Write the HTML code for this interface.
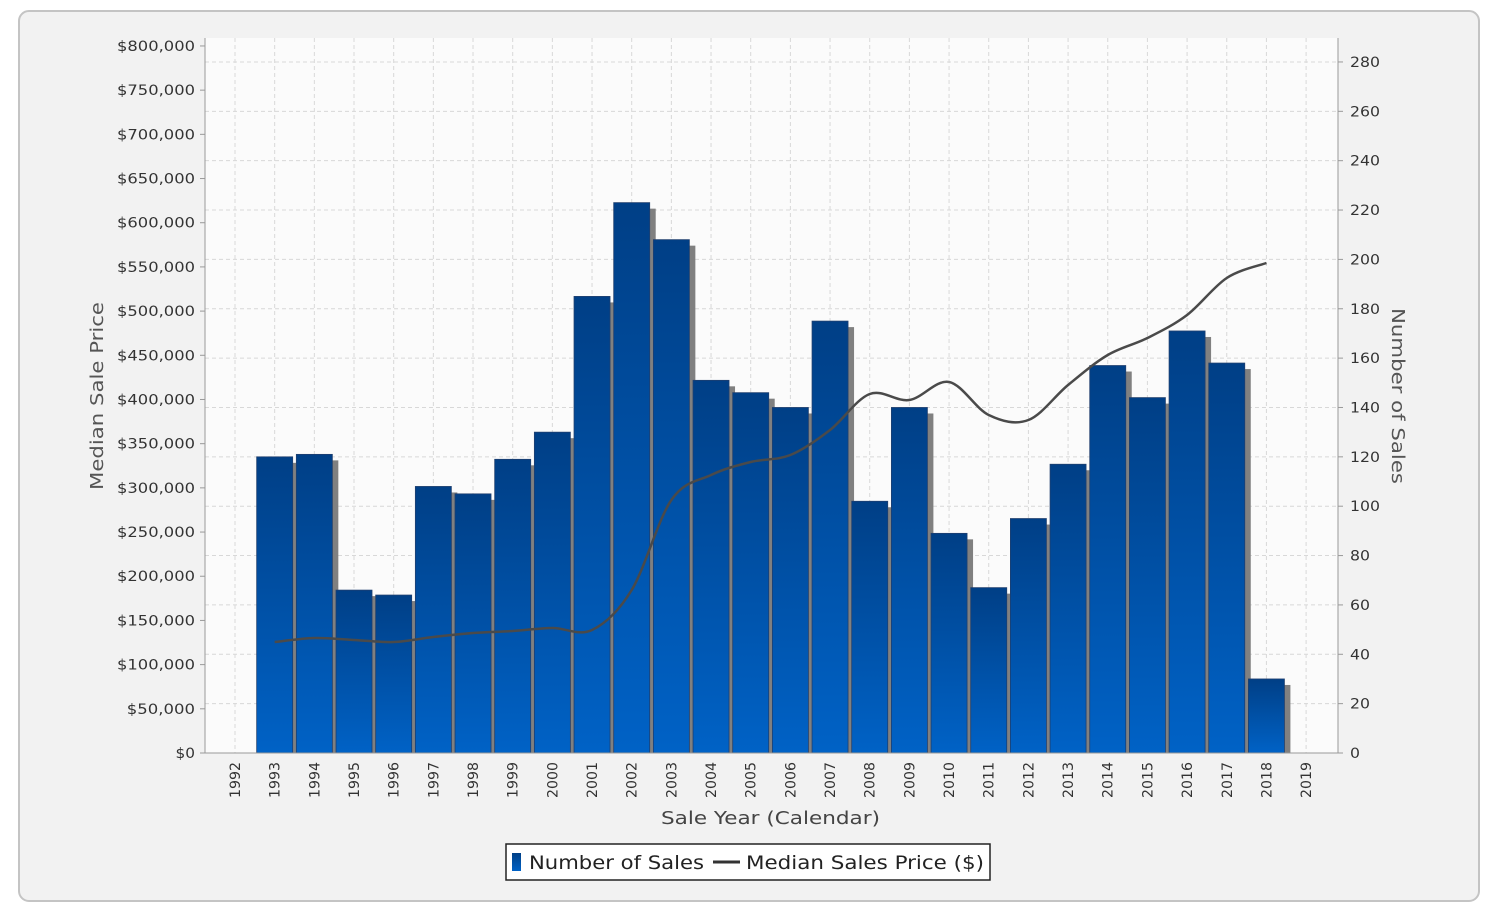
<!DOCTYPE html>
<html><head><meta charset="utf-8"><style>
html,body{margin:0;padding:0;background:#fff;width:1492px;height:913px;overflow:hidden}
</style></head><body>
<svg id="s" width="1492" height="913" xmlns="http://www.w3.org/2000/svg" font-family="'DejaVu Sans','Liberation Sans',sans-serif">
<defs>
<linearGradient id="g" x1="0" y1="0" x2="0" y2="1">
<stop offset="0" stop-color="#003f86"/><stop offset="1" stop-color="#0062c6"/>
</linearGradient>
</defs>
<rect x="19" y="11" width="1460" height="890" rx="10" fill="#f2f2f2" stroke="#c4c4c4" stroke-width="2"/>
<rect x="65" y="30" width="1365" height="852" fill="#f2f2f2"/>
<rect x="205" y="38" width="1133" height="715" fill="#fbfbfb"/>
<g id="grid" stroke="#d8d8d8" stroke-dasharray="4,3" stroke-width="1"></g>
<g id="bars"></g>
<path id="ln" fill="none" stroke="#4a4a4a" stroke-width="2.5"/>
<line x1="205" y1="38" x2="205" y2="753" stroke="#999"/>
<line x1="1338" y1="38" x2="1338" y2="753" stroke="#999"/>
<line x1="205" y1="753" x2="1338" y2="753" stroke="#999"/>
<g id="lab" font-size="14" fill="#333"></g>
<text x="103" y="396" font-size="18" fill="#555" text-anchor="middle" textLength="188" lengthAdjust="spacingAndGlyphs" transform="rotate(-90 103 396)">Median Sale Price</text>
<text x="1392" y="396" font-size="18" fill="#555" text-anchor="middle" textLength="176" lengthAdjust="spacingAndGlyphs" transform="rotate(90 1392 396)">Number of Sales</text>
<text x="661" y="824" font-size="18" fill="#444" textLength="219" lengthAdjust="spacingAndGlyphs">Sale Year (Calendar)</text>
<rect x="506" y="844" width="484" height="36" fill="#fff" stroke="#222" stroke-width="1.5"/>
<rect x="512" y="853" width="9" height="18" fill="url(#g)"/>
<text x="529" y="869" font-size="19" fill="#222" textLength="175" lengthAdjust="spacingAndGlyphs">Number of Sales</text>
<line x1="713" y1="862" x2="740" y2="862" stroke="#333" stroke-width="3"/>
<text x="746" y="869" font-size="19" fill="#222" textLength="238" lengthAdjust="spacingAndGlyphs">Median Sales Price ($)</text>
</svg>
<script>
var NS="http://www.w3.org/2000/svg";
function el(p,t,a,txt){var e=document.createElementNS(NS,t);for(var k in a)e.setAttribute(k,a[k]);if(txt!=null)e.textContent=txt;document.getElementById(p).appendChild(e);return e;}
var X=function(y){return 235+(y-1992)*39.67;};
var R=function(v){return 753-v*2.468;};
var L=function(v){return 753-v/1000*0.8838;};
for(var i=1;i<=14;i++){var y=R(i*20);el("grid","line",{x1:205,x2:1338,y1:y,y2:y});}
for(var yr=1992;yr<=2019;yr++){el("grid","line",{x1:X(yr),x2:X(yr),y1:38,y2:753});}
var vals=[120,121,66,64,108,105,119,130,185,223,208,151,146,140,175,102,140,89,67,95,117,157,144,171,158,30];
vals.forEach(function(v,i){var cx=X(1993+i),t=R(v);
el("bars","rect",{x:cx+0,y:t+6,width:18+6,height:753-t-6,fill:"#808080"});
el("bars","rect",{x:cx-18,y:t,width:36,height:753-t,fill:"url(#g)",stroke:"#1f3f6e","stroke-width":0.8});});
var ly=[642,638,640,642,637,633,631,628,630,590,500,475,462,455,430,394,400,382,415,420,385,355,338,315,278,263];
var pts=ly.map(function(y,i){return [X(1993+i),y];});
var d="M"+pts[0][0]+","+pts[0][1];
for(var i=0;i<pts.length-1;i++){var p0=pts[Math.max(0,i-1)],p1=pts[i],p2=pts[i+1],p3=pts[Math.min(pts.length-1,i+2)];
d+=" C"+(p1[0]+(p2[0]-p0[0])/6)+","+(p1[1]+(p2[1]-p0[1])/6)+" "+(p2[0]-(p3[0]-p1[0])/6)+","+(p2[1]-(p3[1]-p1[1])/6)+" "+p2[0]+","+p2[1];}
document.getElementById("ln").setAttribute("d",d);
for(var i=0;i<=16;i++){var v=i*50000,y=L(v);var s="$"+(v===0?"0":(v/1000)+",000");
el("lab","text",{x:195,y:y+5,"text-anchor":"end",textLength:s.length*9.75,lengthAdjust:"spacingAndGlyphs"},s);el("lab","line",{x1:200,x2:205,y1:y,y2:y,stroke:"#999"});}
for(var i=0;i<=14;i++){var y=R(i*20),s=String(i*20);el("lab","text",{x:1350,y:y+5,textLength:s.length*10,lengthAdjust:"spacingAndGlyphs"},s);el("lab","line",{x1:1338,x2:1343,y1:y,y2:y,stroke:"#999"});}
for(var yr=1992;yr<=2019;yr++){var x=X(yr);el("lab","text",{x:x+5,y:762,"text-anchor":"end",textLength:36,lengthAdjust:"spacingAndGlyphs",transform:"rotate(-90 "+(x+5)+" 762)"},String(yr));}
</script>
</body></html>
